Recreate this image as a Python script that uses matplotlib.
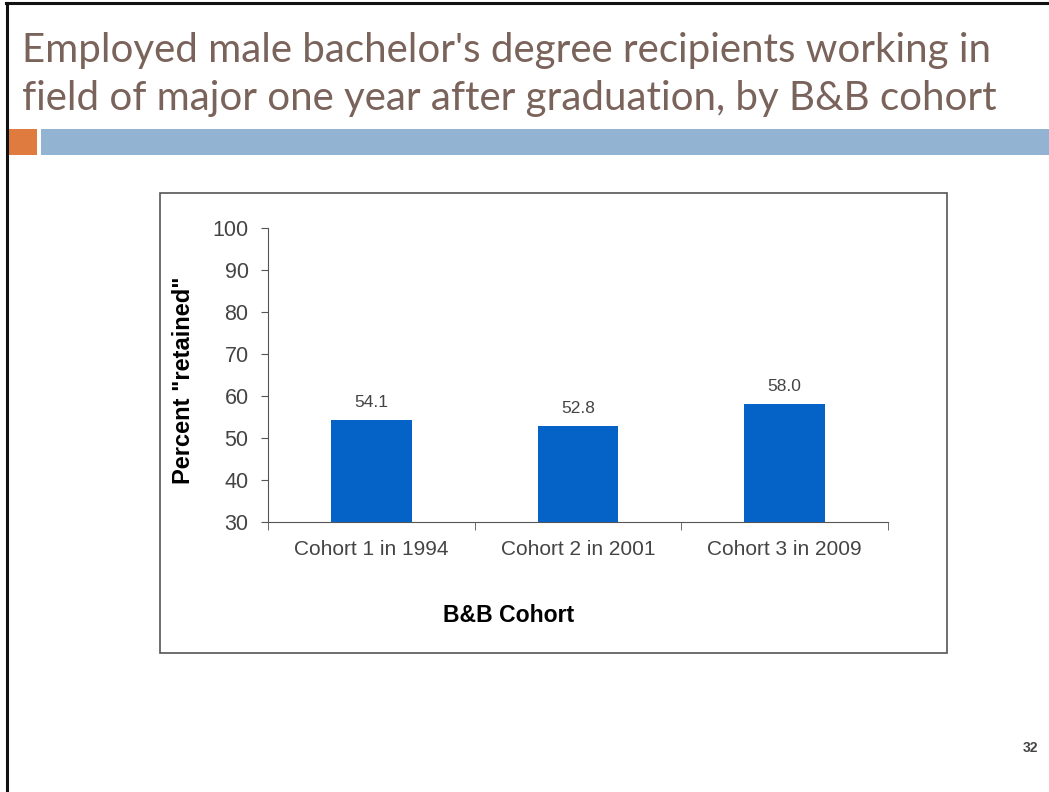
import matplotlib.pyplot as plt
from matplotlib.patches import Rectangle
from matplotlib.lines import Line2D

W, H = 1049, 792

title_lines = ["Employed male bachelor's degree recipients working in",
               "field of major one year after graduation, by B&B cohort"]
cohorts = ["Cohort 1 in 1994", "Cohort 2 in 2001", "Cohort 3 in 2009"]
retained = [54.1, 52.8, 58.0]
yticks = [30, 40, 50, 60, 70, 80, 90, 100]


def fx(px):
    return px / W


def fy(py):
    return 1 - py / H


fig = plt.figure(figsize=(W / 100, H / 100), dpi=100)
fig.patch.set_facecolor("white")

# slide frame
fig.add_artist(Line2D([fx(7), fx(7)], [0, fy(3)], color="#111111", lw=2.2))
fig.add_artist(Line2D([fx(6), 1], [fy(3), fy(3)], color="#111111", lw=2.2))

# title
title_color = "#7a635a"
fig.text(fx(22), fy(62), title_lines[0], fontsize=29, color=title_color,
         family="Lato", va="baseline", ha="left")
fig.text(fx(22), fy(110), title_lines[1], fontsize=29, color=title_color,
         family="Lato", va="baseline", ha="left")

# decorative bars under the title
fig.add_artist(Rectangle((fx(7), fy(155)), fx(30), (155 - 129) / H,
                         facecolor="#e07b3f", edgecolor="none"))
fig.add_artist(Rectangle((fx(41), fy(155)), 1 - fx(41), (155 - 129) / H,
                         facecolor="#93b3d3", edgecolor="none"))

# chart box (behind the axes)
fig.add_artist(Rectangle((fx(160), fy(653)), fx(947 - 160), (653 - 193) / H,
                         facecolor="white", edgecolor="#555555", lw=1.2,
                         zorder=-5))

ax = fig.add_axes([fx(268), fy(521.5), fx(888 - 268), (521.5 - 228) / H])
ax.set_zorder(5)
ax.patch.set_alpha(0)
x = range(len(cohorts))
bars = ax.bar(x, retained, width=0.39, color="#0563c8", zorder=3)
for b, v in zip(bars, retained):
    ax.text(b.get_x() + b.get_width() / 2, v + 2.4, f"{v:.1f}",
            ha="center", va="bottom", fontsize=12.5, color="#444444",
            family="Liberation Sans")

ax.set_ylim(30, 100)
ax.set_xlim(-0.5, 2.5)
ax.set_yticks(yticks)
ax.set_yticklabels([str(t) for t in yticks], family="Liberation Sans",
                   fontsize=15.5, color="#444444")
ax.set_xticks(list(x))
ax.set_xticklabels(cohorts, family="Liberation Sans", fontsize=15,
                   color="#444444")
ax.set_xticks([-0.5, 0.5, 1.5, 2.5], minor=True)
ax.tick_params(axis="x", which="major", length=0, pad=13)
ax.tick_params(axis="x", which="minor", length=6, color="#555555")
ax.tick_params(axis="y", length=5, color="#555555", pad=9)
for s in ["top", "right"]:
    ax.spines[s].set_visible(False)
for s in ["left", "bottom"]:
    ax.spines[s].set_color("#555555")

fig.text(fx(183), fy(380), 'Percent "retained"', rotation=90, ha="center",
         va="center", fontsize=17, fontweight="bold", family="Liberation Sans")
fig.text(fx(509), fy(615), "B&B Cohort", ha="center", va="center",
         fontsize=16.6, fontweight="bold", family="Liberation Sans")

fig.text(fx(1030), fy(748), "32", ha="center", va="center", fontsize=10,
         fontweight="bold", color="#444444", family="Liberation Sans")

fig.savefig("out.png", dpi=100, facecolor="white")
